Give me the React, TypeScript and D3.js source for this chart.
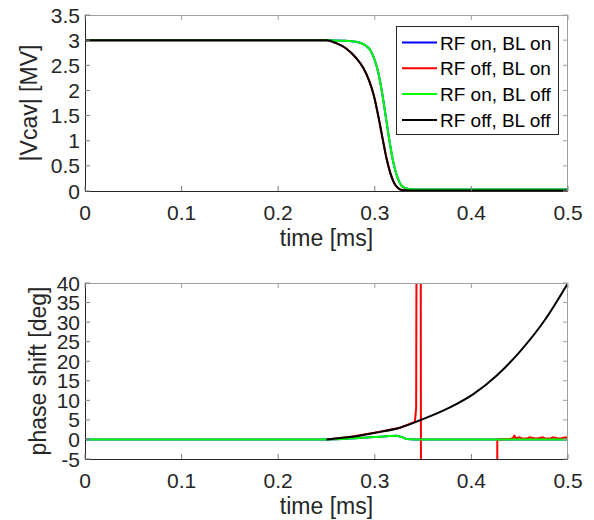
import React from "react";
import * as d3 from "d3";

// ---------- data ----------
const xTicks = [0, 0.1, 0.2, 0.3, 0.4, 0.5];
const xTickLabels = ["0", "0.1", "0.2", "0.3", "0.4", "0.5"];
const ampTicks = [0, 0.5, 1, 1.5, 2, 2.5, 3, 3.5];
const ampTickLabels = ["0", "0.5", "1", "1.5", "2", "2.5", "3", "3.5"];
const phTicks = [-5, 0, 5, 10, 15, 20, 25, 30, 35, 40];
const phTickLabels = ["-5", "0", "5", "10", "15", "20", "25", "30", "35", "40"];

const seriesNames = ["RF on, BL on", "RF off, BL on", "RF on, BL off", "RF off, BL off"];
const seriesColors = ["#0000ff", "#ff0000", "#00ff00", "#000000"];

// |Vcav| [MV]
const ampTimeOn = [0, 0.25, 0.27, 0.28, 0.29, 0.296, 0.3, 0.304, 0.308, 0.312, 0.316, 0.32, 0.324, 0.328, 0.333, 0.34, 0.5];
const ampBlueOn = [3, 3, 2.99, 2.97, 2.9, 2.78, 2.6, 2.32, 1.9, 1.4, 0.9, 0.5, 0.24, 0.1, 0.05, 0.03, 0.03];
const ampGreenOn = [3, 3, 2.99, 2.97, 2.9, 2.78, 2.6, 2.32, 1.9, 1.4, 0.9, 0.5, 0.24, 0.1, 0.05, 0.03, 0.03];
const ampTimeOff = [0, 0.25, 0.26, 0.27, 0.28, 0.288, 0.294, 0.299, 0.3035, 0.308, 0.312, 0.316, 0.32, 0.324, 0.328, 0.335, 0.5];
const ampRedOff = [3, 3, 2.94, 2.84, 2.66, 2.45, 2.2, 1.9, 1.5, 1.05, 0.66, 0.36, 0.16, 0.06, 0.02, 0.01, 0.01];
const ampBlackOff = [3, 3, 2.94, 2.84, 2.66, 2.45, 2.2, 1.9, 1.5, 1.05, 0.66, 0.36, 0.16, 0.06, 0.02, 0.01, 0.01];

// phase shift [deg]
const phTimeOn = [0, 0.25, 0.28, 0.3, 0.315, 0.322, 0.328, 0.333, 0.34, 0.5];
const phBlueOn = [0, 0, 0.3, 0.6, 0.85, 0.95, 0.6, 0.1, 0, 0];
const phGreenOn = [0, 0, 0.3, 0.6, 0.85, 0.95, 0.6, 0.1, 0, 0];
const phTimeRed = [0.25, 0.274, 0.3, 0.326, 0.3415, 0.3428, 0.3433, 0.3445, 0.347, 0.3485, 0.4265, 0.4268, 0.44, 0.443, 0.4445, 0.446,
  0.45, 0.452, 0.458, 0.46, 0.466, 0.468, 0.474, 0.476, 0.482, 0.484, 0.49, 0.492, 0.498, 0.5];
const phRed = [0, 0.6, 1.7, 3.0, 4.5, 8, 60, 180, 180, -180, -180, 0, 0.1, 0.3, 1.0, 0.3,
  0.55, 0.25, 0.25, 0.55, 0.25, 0.25, 0.55, 0.25, 0.25, 0.55, 0.25, 0.25, 0.55, 0.3];
const phTimeBlack = [0.25, 0.274, 0.3, 0.326, 0.3468, 0.3778, 0.402, 0.426, 0.45, 0.4762, 0.5];
const phBlack = [0, 0.6, 1.7, 3.0, 4.9, 8.2, 11.6, 16.3, 22.4, 30.6, 40];

// ---------- layout ----------
const W = 594, H = 520;
const left = 85, right = 568;
const top1 = 15, bot1 = 191;
const top2 = 283, bot2 = 459;
const font = "'Liberation Sans', Arial, Helvetica, sans-serif";
const textColor = "#262626";
const tickFont = 21;
const labelFont = 23;
const legendFont = 19;

type Pt = [number, number];
const zip = (xs: number[], ys: number[]): Pt[] => xs.map((x, i) => [x, ys[i]]);

function Axes(props: {
  top: number; bottom: number; yDomain: [number, number];
  yTicks: number[]; yLabels: string[]; ylabel: string; ylabelX: number;
  series: { pts: Pt[]; color: string; smooth: boolean }[];
  id: string; legend?: boolean;
}) {
  const { top, bottom, yDomain, yTicks, yLabels, ylabel, ylabelX, series, id, legend } = props;
  const x = d3.scaleLinear().domain([0, 0.5]).range([left, right]);
  const y = d3.scaleLinear().domain(yDomain).range([bottom, top]);
  const tl = 5;
  return (
    <g>
      <defs>
        <clipPath id={id}>
          <rect x={left} y={top} width={right - left} height={bottom - top} />
        </clipPath>
      </defs>
      <rect x={left} y={top} width={right - left} height={bottom - top} fill="#fff" />
      <g clipPath={`url(#${id})`}>
        {series.map((s, i) => {
          const line = d3.line<Pt>().x(d => x(d[0])).y(d => y(d[1]))
            .curve(s.smooth ? d3.curveMonotoneX : d3.curveLinear);
          return <path key={i} d={line(s.pts) || ""} fill="none" stroke={s.color} strokeWidth={2} strokeLinejoin="round" />;
        })}
      </g>
      {/* box */}
      <line x1={left} x2={right} y1={top + 0.5} y2={top + 0.5} stroke="#a0a0a0" />
      <line x1={right - 0.5} x2={right - 0.5} y1={top} y2={bottom} stroke="#a0a0a0" />
      <line x1={left} x2={right} y1={bottom + 0.5} y2={bottom + 0.5} stroke={textColor} />
      <line x1={left + 0.5} x2={left + 0.5} y1={top} y2={bottom + 1} stroke={textColor} />
      {xTicks.map((t, i) => (
        <g key={"x" + i}>
          <line x1={x(t)} x2={x(t)} y1={bottom} y2={bottom - tl} stroke="#808080" />
          <line x1={x(t)} x2={x(t)} y1={top} y2={top + tl} stroke="#a0a0a0" />
          <text x={x(t)} y={bottom + 29} textAnchor="middle" fontSize={tickFont} fontFamily={font} fill={textColor}>{xTickLabels[i]}</text>
        </g>
      ))}
      {yTicks.map((t, i) => (
        <g key={"y" + i}>
          <line x1={left} x2={left + tl} y1={y(t)} y2={y(t)} stroke="#808080" />
          <line x1={right} x2={right - tl} y1={y(t)} y2={y(t)} stroke="#a0a0a0" />
          <text x={left - 5} y={y(t) + 7.5} textAnchor="end" fontSize={tickFont} fontFamily={font} fill={textColor}>{yLabels[i]}</text>
        </g>
      ))}
      <text x={(left + right) / 2} y={bottom + 55} textAnchor="middle" fontSize={labelFont} fontFamily={font} fill={textColor}>time [ms]</text>
      <text transform={`translate(${ylabelX},${(top + bottom) / 2}) rotate(-90)`} textAnchor="middle" fontSize={labelFont} fontFamily={font} fill={textColor}>{ylabel}</text>
      {legend && (
        <g>
          <rect x={396.5} y={26.5} width={162} height={108} fill="#fff" stroke={textColor} strokeWidth={1} />
          {seriesNames.map((n, i) => {
            const cy = 42.5 + i * 25.8;
            return (
              <g key={n}>
                <line x1={402} x2={437} y1={cy} y2={cy} stroke={seriesColors[i]} strokeWidth={2} />
                <text x={440} y={cy + 7} fontSize={legendFont} fontFamily={font} fill="#000">{n}</text>
              </g>
            );
          })}
        </g>
      )}
    </g>
  );
}

export default function App() {
  const ampSeries = [
    { pts: zip(ampTimeOn, ampBlueOn), color: seriesColors[0], smooth: true },
    { pts: zip(ampTimeOff, ampRedOff), color: seriesColors[1], smooth: true },
    { pts: zip(ampTimeOn, ampGreenOn), color: seriesColors[2], smooth: true },
    { pts: zip(ampTimeOff, ampBlackOff), color: seriesColors[3], smooth: true },
  ];
  const phSeries = [
    { pts: zip(phTimeOn, phBlueOn), color: seriesColors[0], smooth: true },
    { pts: zip(phTimeRed, phRed), color: seriesColors[1], smooth: false },
    { pts: zip(phTimeOn, phGreenOn), color: seriesColors[2], smooth: true },
    { pts: zip(phTimeBlack, phBlack), color: seriesColors[3], smooth: true },
  ];
  return (
    <svg width={W} height={H} viewBox={`0 0 ${W} ${H}`} style={{ position: "absolute", left: 0, top: 0, display: "block", background: "#fff" }}>
      <rect width={W} height={H} fill="#fff" />
      <Axes id="clipA" top={top1} bottom={bot1} yDomain={[0, 3.5]} yTicks={ampTicks} yLabels={ampTickLabels}
        ylabel="|Vcav| [MV]" ylabelX={37} series={ampSeries} legend />
      <Axes id="clipB" top={top2} bottom={bot2} yDomain={[-5, 40]} yTicks={phTicks} yLabels={phTickLabels}
        ylabel="phase shift [deg]" ylabelX={46} series={phSeries} />
    </svg>
  );
}
